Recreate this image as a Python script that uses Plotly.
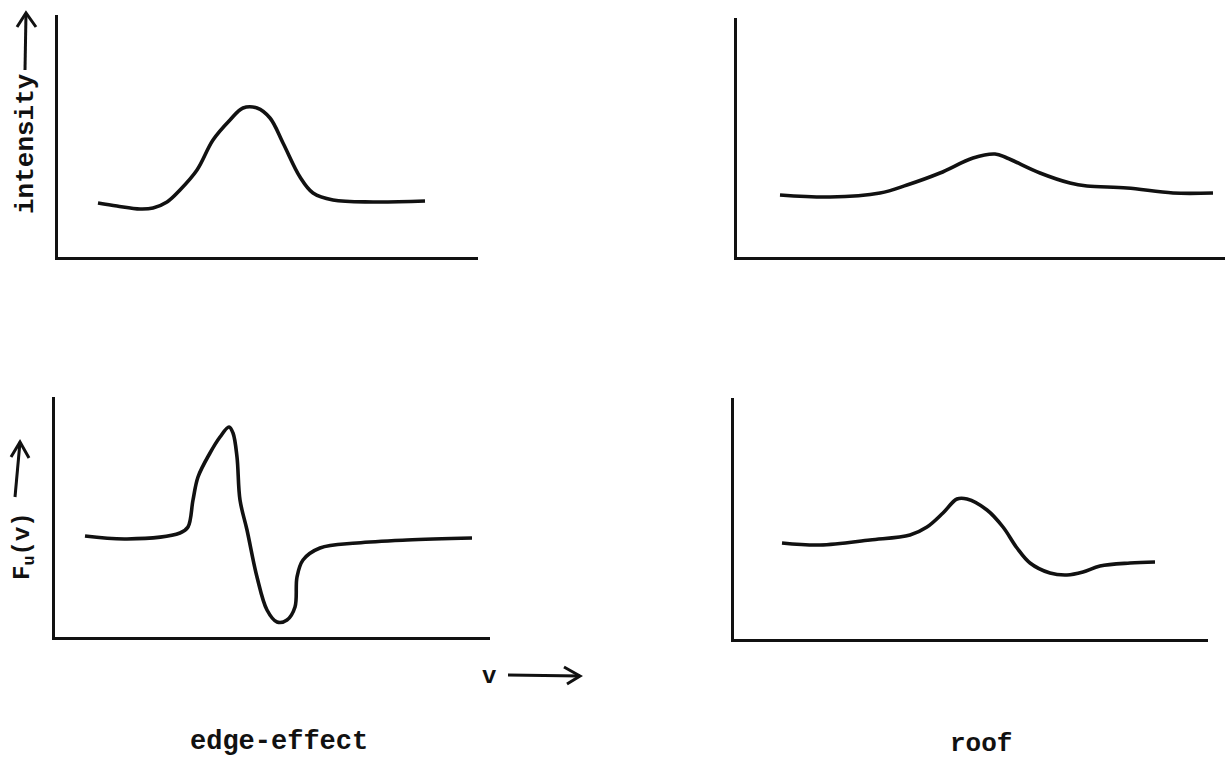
import plotly.graph_objects as go

# ---- data (panel-local units, origin at axis corner) ----
peak_x = [40, 59, 82, 95, 109, 122, 139, 155, 172, 185, 199, 212, 225, 242, 255, 275, 315, 367]
peak_y = [54, 51, 48, 49, 55, 67, 87, 117, 137, 149, 149, 139, 114, 80, 64, 57, 55, 56]

roof_x = [43, 93, 143, 170, 203, 236, 258, 270, 303, 333, 350, 390, 436, 476]
roof_y = [62, 60, 64, 72, 84, 99, 103, 99, 84, 74, 71, 69, 64, 64]

edge_f_x = [30, 72, 125, 133, 138, 143, 155, 165, 174, 178, 182, 185, 192, 202,
            212, 222, 232, 240, 242, 248, 265, 302, 352, 417]
edge_f_y = [101, 98, 104, 110, 137, 160, 184, 200, 210, 204, 180, 137, 107, 60,
            27, 15, 17, 30, 60, 77, 89, 94, 97, 99]

roof_f_x = [48, 86, 136, 176, 193, 209, 223, 233, 253, 269, 283, 296, 316, 333,
            349, 366, 396, 421]
roof_f_y = [96, 94, 99, 104, 112, 126, 140, 140, 129, 112, 91, 76, 66, 64, 67,
            73, 76, 77]

panel_titles = ["edge-effect", "roof"]
y_labels = ["intensity", "F<sub>u</sub>(v)"]
x_label = "v"

W, H = 1225, 758
FONT = "Liberation Mono, Courier New, monospace"
INK = "#111111"

fig = go.Figure()
series = [(peak_x, peak_y, "x", "y"), (roof_x, roof_y, "x2", "y2"),
          (edge_f_x, edge_f_y, "x3", "y3"), (roof_f_x, roof_f_y, "x4", "y4")]
for xs, ys, xa, ya in series:
    fig.add_trace(go.Scatter(x=xs, y=ys, xaxis=xa, yaxis=ya, mode="lines",
                             line=dict(color=INK, width=3.6, shape="spline", smoothing=1.0),
                             showlegend=False, hoverinfo="skip"))

# panel pixel boxes: (left, right, top, bottom)
boxes = [(58, 478, 15, 257), (737, 1225, 18, 257), (55, 490, 397, 637), (734, 1208, 398, 639)]

def ax(domain, rng):
    return dict(domain=domain, range=rng, showline=True, linecolor=INK, linewidth=3,
                showgrid=False, zeroline=False, showticklabels=False, ticks="", fixedrange=True)

layout = {}
for i, (l, r, t, b) in enumerate(boxes):
    suf = "" if i == 0 else str(i + 1)
    xa = ax([l / W, r / W], [0, r - l])
    ya = ax([1 - b / H, 1 - t / H], [0, b - t])
    xa["anchor"] = "y" + suf
    ya["anchor"] = "x" + suf
    layout["xaxis" + suf] = xa
    layout["yaxis" + suf] = ya
fig.update_layout(**layout)

def px(x, y):
    return x / W, 1 - y / H

def label(text, x, y, size, angle=0):
    X, Y = px(x, y)
    return dict(x=X, y=Y, xref="paper", yref="paper", text=text, textangle=angle,
                showarrow=False, xanchor="center", yanchor="middle",
                font=dict(family=FONT, size=size, color=INK))

ann = [
    label("<b>%s</b>" % panel_titles[0], 279, 742, 27),
    label("<b>%s</b>" % panel_titles[1], 981, 744, 26),
    label("<b>%s</b>" % y_labels[0], 26, 144, 26, -90),
    label("<b>%s</b>" % y_labels[1], 24, 546, 24, -90),
    label("<b>%s</b>" % x_label, 489, 676, 24),
]

# hand-drawn style open arrows (decoration), as pixel polylines
arrows = [
    [(25, 70), (26, 13)], [(17, 27), (26, 13), (36, 27)],
    [(15, 497), (20, 442)], [(11, 457), (20, 442), (29, 458)],
    [(508, 675), (580, 676)], [(564, 667), (580, 676), (567, 684)],
]
shapes = []
for pts in arrows:
    path = "M " + " L ".join("%g,%g" % px(x, y) for x, y in pts)
    shapes.append(dict(type="path", xref="paper", yref="paper", path=path,
                       line=dict(color=INK, width=3)))

fig.update_layout(annotations=ann, shapes=shapes, width=W, height=H,
                  margin=dict(l=0, r=0, t=0, b=0),
                  paper_bgcolor="white", plot_bgcolor="white", showlegend=False)

fig.write_html("out.html", config={"displayModeBar": False},
               post_script="document.body.style.margin='0';")
